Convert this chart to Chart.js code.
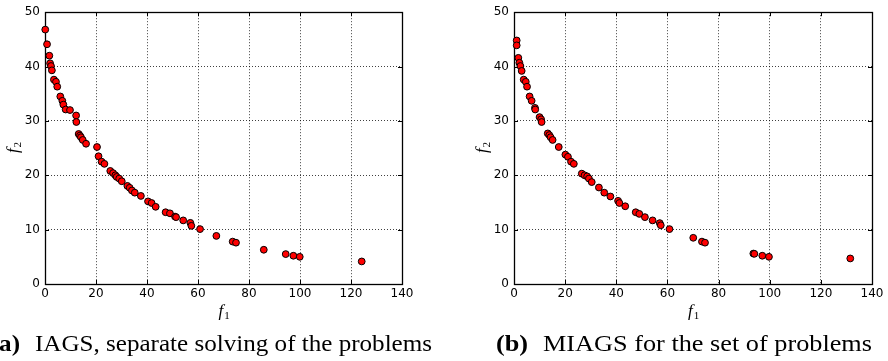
<!DOCTYPE html>
<html>
<head>
<meta charset="utf-8">
<script src="https://cdn.jsdelivr.net/npm/chart.js@4"></script>
<style>
  body { margin: 0; background: #fff; }
  #wrap { position: relative; width: 888px; height: 361px; overflow: hidden; }
  .panel { position: absolute; top: 0; width: 444px; height: 361px; }
</style>
</head>
<body>
<div id="wrap">
  <div class="panel" style="left:0"><canvas id="chart-iags" width="444" height="361"></canvas></div>
  <div class="panel" style="left:444px"><canvas id="chart-miags" width="444" height="361"></canvas></div>
</div>
<script>
// tick values
const f1Ticks = [0, 20, 40, 60, 80, 100, 120, 140];
const f2Ticks = [0, 10, 20, 30, 40, 50];

// IAGS, every problem solved on its own
const iagsF1 = [0.1, 0.8, 1.7, 2.0, 2.35, 2.7, 3.5, 4.3, 4.8, 6.0, 6.8, 7.2, 8.1, 9.8, 12.2, 12.3,
  13.2, 13.7, 14.1, 14.8, 16.1, 20.4, 21.0, 22.2, 23.3, 25.6, 26.7, 27.6, 28.1, 29.1, 30.1,
  32.3, 33.2, 34.1, 35.2, 37.6, 40.4, 41.8, 43.4, 47.3, 49.0, 51.0, 51.4, 54.2, 57.0, 57.4,
  60.8, 67.2, 73.6, 74.9, 85.8, 94.4, 97.4, 99.9, 124.2];
const iagsF2 = [46.8, 44.1, 42.0, 40.6, 40.1, 39.3, 37.6, 37.2, 36.3, 34.5, 33.7, 33.0, 32.1, 32.0, 31.0, 29.8,
  27.6, 27.3, 27.0, 26.5, 25.8, 25.2, 23.5, 22.5, 22.1, 20.8, 20.4, 20.0, 19.7, 19.4, 18.9,
  18.05, 17.7, 17.2, 16.8, 16.2, 15.2, 14.9, 14.2, 13.2, 13.0, 12.4, 12.3, 11.7, 11.25, 10.7,
  10.1, 8.85, 7.8, 7.6, 6.3, 5.5, 5.2, 5.0, 4.15];

// MIAGS, the whole set at once
const miagsF1 = [1.05, 1.05, 1.7, 2.1, 2.5, 3.0, 3.8, 4.6, 5.1, 6.1, 6.9, 8.2, 8.3, 10.0, 10.6, 10.8,
  13.2, 13.8, 14.3, 15.1, 17.5, 20.1, 21.1, 22.3, 23.4, 26.5, 27.6, 28.6, 29.3, 30.4, 33.2,
  35.3, 37.7, 40.7, 41.2, 43.5, 47.6, 49.0, 51.2, 54.2, 57.0, 57.4, 60.8, 70.1, 73.5, 74.7,
  93.6, 94.0, 97.1, 99.7, 131.5];
const miagsF2 = [44.8, 43.9, 41.6, 40.7, 40.1, 39.2, 37.6, 37.2, 36.3, 34.5, 33.7, 32.4, 32.1, 30.7, 30.3, 29.8,
  27.7, 27.4, 27.0, 26.5, 25.2, 23.8, 23.4, 22.5, 22.1, 20.3, 20.0, 19.8, 19.4, 18.75, 17.75,
  16.8, 16.1, 15.3, 14.9, 14.3, 13.2, 12.9, 12.3, 11.7, 11.2, 10.8, 10.1, 8.5, 7.8, 7.6,
  5.6, 5.55, 5.2, 5.0, 4.7];

const tickFont = { family: 'DejaVu Sans', size: 12 };

function drawSubscripted(ctx, sub, x, y) {
  ctx.font = 'italic 17px "Liberation Serif"';
  const w = ctx.measureText('f').width;
  ctx.textBaseline = 'alphabetic';
  ctx.textAlign = 'left';
  ctx.fillText('f', x, y);
  ctx.font = '11px "Liberation Serif"';
  ctx.fillText(sub, x + w + 1, y + 3);
}

// box around the plot, inward ticks on all four sides
const frame = {
  id: 'frame',
  beforeDatasetsDraw(chart) {
    const { ctx, chartArea: a, scales: { x, y } } = chart;
    ctx.save();
    ctx.strokeStyle = '#000';
    ctx.lineWidth = 1;
    ctx.beginPath();
    f1Ticks.forEach(v => {
      const px = Math.round(x.getPixelForValue(v)) + 0.5;
      ctx.moveTo(px, a.bottom); ctx.lineTo(px, a.bottom - 4);
      ctx.moveTo(px, a.top); ctx.lineTo(px, a.top + 4);
    });
    f2Ticks.forEach(v => {
      const py = Math.round(y.getPixelForValue(v)) + 0.5;
      ctx.moveTo(a.left, py); ctx.lineTo(a.left + 4, py);
      ctx.moveTo(a.right, py); ctx.lineTo(a.right - 4, py);
    });
    ctx.stroke();
    ctx.lineWidth = 1.3;
    ctx.strokeRect(Math.round(a.left) + 0.5, Math.round(a.top) + 0.5,
      Math.round(a.right - a.left), Math.round(a.bottom - a.top));
    ctx.restore();
  },
  afterDraw(chart, args, opts) {
    const { ctx, chartArea: a } = chart;
    ctx.save();
    ctx.fillStyle = '#000';
    // f1 under the x axis
    drawSubscripted(ctx, '1', (a.left + a.right) / 2 - 5, 316);
    // f2 beside the y axis
    ctx.translate(a.left - 27, (a.top + a.bottom) / 2 + 5);
    ctx.rotate(-Math.PI / 2);
    drawSubscripted(ctx, '2', 0, 0);
    ctx.restore();

    // caption below the panel
    ctx.save();
    ctx.fillStyle = '#000';
    ctx.textBaseline = 'alphabetic';
    ctx.font = '23px "Liberation Serif"';
    const sx = opts.width / ctx.measureText(opts.text).width;
    ctx.translate(opts.x, 351);
    ctx.scale(sx, 1);
    ctx.textAlign = 'left';
    ctx.fillText(opts.text, 0, 0);
    ctx.font = 'bold 23px "Liberation Serif"';
    ctx.textAlign = 'right';
    ctx.fillText(opts.label, -15 / sx, 0);
    ctx.restore();
  }
};

function makeChart(id, xs, ys, pad, yWidth, caption) {
  const points = xs.map((v, i) => ({ x: v, y: ys[i] }));
  return new Chart(document.getElementById(id), {
    type: 'scatter',
    data: {
      datasets: [{
        data: points,
        backgroundColor: '#ff0000',
        borderColor: '#000',
        borderWidth: 1,
        pointRadius: 3.4,
        clip: false
      }]
    },
    options: {
      responsive: false,
      animation: false,
      layout: { padding: pad },
      plugins: {
        legend: { display: false },
        tooltip: { enabled: false },
        frame: caption
      },
      scales: {
        x: {
          type: 'linear',
          min: 0, max: 140,
          afterBuildTicks: s => { s.ticks = f1Ticks.map(v => ({ value: v })); },
          afterFit: s => { s.height = 40; },
          grid: { color: 'rgba(0,0,0,0.75)', lineWidth: 1, drawTicks: false, tickBorderDash: [1, 2] },
          border: { display: false, dash: [1, 2] },
          ticks: { font: tickFont, color: '#000', padding: 3, maxRotation: 0 }
        },
        y: {
          type: 'linear',
          min: 0, max: 50,
          afterBuildTicks: s => { s.ticks = f2Ticks.map(v => ({ value: v })); },
          afterFit: s => { s.width = yWidth; },
          grid: { color: 'rgba(0,0,0,0.75)', lineWidth: 1, drawTicks: false },
          border: { display: false, dash: [1, 2] },
          ticks: { font: tickFont, color: '#000', padding: 5 }
        }
      }
    },
    plugins: [frame]
  });
}

makeChart('chart-iags', iagsF1, iagsF2, { left: 0, top: 7, right: 42, bottom: 37 }, 45,
  { label: '(a)', text: 'IAGS, separate solving of the problems', x: 35, width: 397 });
makeChart('chart-miags', miagsF1, miagsF2, { left: 0, top: 7, right: 16, bottom: 37 }, 70,
  { label: '(b)', text: 'MIAGS for the set of problems', x: 99, width: 329 });
</script>
</body>
</html>
